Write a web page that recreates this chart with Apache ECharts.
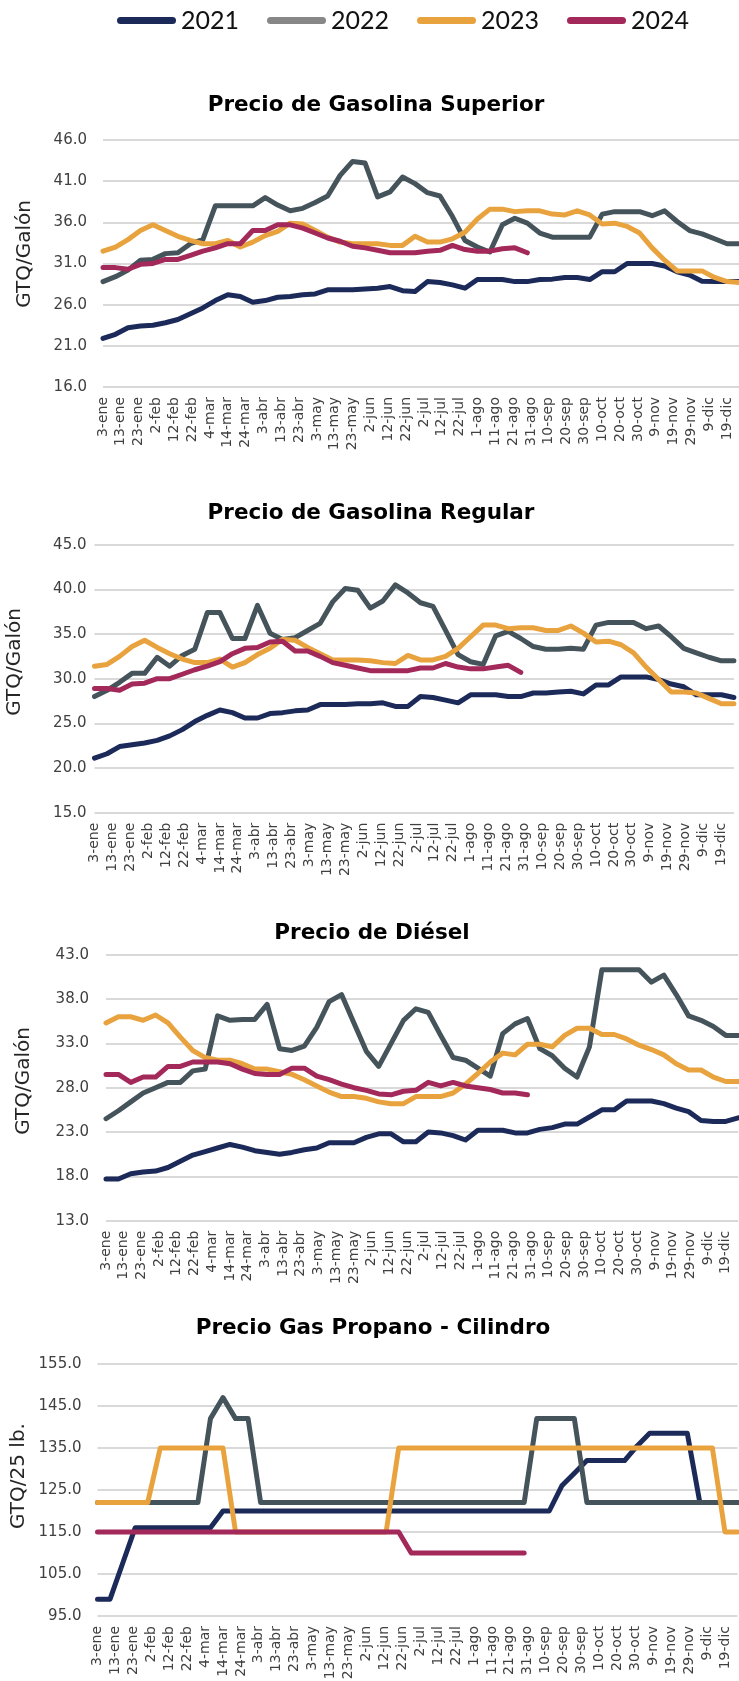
<!DOCTYPE html>
<html>
<head>
<meta charset="utf-8">
<title>Precios de combustibles</title>
<script src="https://cdn.jsdelivr.net/npm/echarts@6/dist/echarts.min.js"></script>
<style>
  html, body { margin: 0; padding: 0; background: #ffffff; }
  #chart { width: 739px; height: 1681px; }
</style>
</head>
<body>
<div id="chart"></div>
<script>
// Years shown in every panel
const years = ['2021', '2022', '2023', '2024'];

// Date labels along the horizontal axis (one every 10 days from 3-ene)
const tickLabels = ['3-ene', '13-ene', '23-ene', '2-feb', '12-feb', '22-feb', '4-mar', '14-mar', '24-mar',
  '3-abr', '13-abr', '23-abr', '3-may', '13-may', '23-may', '2-jun', '12-jun', '22-jun', '2-jul', '12-jul',
  '22-jul', '1-ago', '11-ago', '21-ago', '31-ago', '10-sep', '20-sep', '30-sep', '10-oct', '20-oct',
  '30-oct', '9-nov', '19-nov', '29-nov', '9-dic', '19-dic'];
const tickStepDays = 10;
const readingStepDays = 7;   // prices are weekly
const lastReadingDay = 357;  // 52nd weekly reading

// Gasolina superior (GTQ/galón)
const superior2021 = [21.9, 22.4, 23.2, 23.4, 23.5, 23.8, 24.2, 24.9, 25.6, 26.5, 27.2, 27.0, 26.3, 26.5, 26.9, 27.0, 27.2, 27.3, 27.8, 27.8, 27.8, 27.9, 28.0, 28.2, 27.7, 27.6, 28.8, 28.7, 28.4, 28.0, 29.05, 29.05, 29.05, 28.8, 28.8, 29.05, 29.1, 29.3, 29.3, 29.05, 30.0, 30.0, 31.0, 31.0, 31.0, 30.7, 30.0, 29.6, 28.85, 28.8, 28.8, 28.8];
const superior2022 = [28.8, 29.4, 30.2, 31.4, 31.5, 32.2, 32.3, 33.4, 33.9, 38.0, 38.0, 38.0, 38.0, 39.0, 38.1, 37.4, 37.7, 38.4, 39.2, 41.7, 43.4, 43.2, 39.1, 39.7, 41.5, 40.7, 39.6, 39.2, 36.7, 33.8, 33.0, 32.4, 35.7, 36.5, 35.9, 34.7, 34.2, 34.2, 34.2, 34.2, 37.0, 37.3, 37.3, 37.3, 36.8, 37.4, 36.1, 35.0, 34.6, 34.0, 33.4, 33.4];
const superior2023 = [32.5, 33.0, 33.9, 35.0, 35.7, 35.0, 34.3, 33.8, 33.4, 33.4, 33.8, 33.0, 33.6, 34.4, 34.9, 35.9, 35.8, 35.0, 34.2, 33.6, 33.4, 33.4, 33.4, 33.2, 33.2, 34.3, 33.6, 33.6, 34.0, 34.8, 36.4, 37.6, 37.6, 37.3, 37.4, 37.4, 37.0, 36.9, 37.4, 36.9, 35.8, 35.9, 35.5, 34.7, 32.9, 31.4, 30.1, 30.1, 30.1, 29.3, 28.8, 28.7];
const superior2024 = [30.5, 30.5, 30.3, 30.9, 31.0, 31.5, 31.5, 32.0, 32.5, 32.9, 33.4, 33.4, 35.0, 35.0, 35.7, 35.7, 35.3, 34.7, 34.1, 33.7, 33.1, 32.9, 32.6, 32.3, 32.3, 32.3, 32.5, 32.6, 33.2, 32.7, 32.5, 32.5, 32.8, 32.9, 32.3];

// Gasolina regular (GTQ/galón)
const regular2021 = [21.1, 21.6, 22.4, 22.6, 22.8, 23.1, 23.6, 24.3, 25.2, 25.9, 26.5, 26.2, 25.6, 25.6, 26.1, 26.2, 26.4, 26.5, 27.1, 27.1, 27.1, 27.2, 27.2, 27.3, 26.9, 26.9, 28.0, 27.9, 27.6, 27.3, 28.2, 28.2, 28.2, 28.0, 28.0, 28.4, 28.4, 28.5, 28.6, 28.3, 29.3, 29.3, 30.2, 30.2, 30.2, 29.9, 29.4, 29.1, 28.2, 28.2, 28.2, 27.9];
const regular2022 = [28.0, 28.7, 29.6, 30.6, 30.6, 32.4, 31.4, 32.6, 33.3, 37.4, 37.4, 34.5, 34.5, 38.2, 35.1, 34.4, 34.6, 35.4, 36.2, 38.6, 40.1, 39.9, 37.9, 38.7, 40.5, 39.6, 38.5, 38.1, 35.4, 32.7, 31.9, 31.6, 34.8, 35.3, 34.5, 33.6, 33.3, 33.3, 33.4, 33.3, 36.0, 36.3, 36.3, 36.3, 35.6, 35.9, 34.7, 33.4, 32.9, 32.4, 32.0, 32.0];
const regular2023 = [31.4, 31.6, 32.5, 33.6, 34.3, 33.5, 32.8, 32.2, 31.8, 31.8, 32.2, 31.3, 31.8, 32.7, 33.4, 34.4, 34.3, 33.5, 32.8, 32.1, 32.1, 32.1, 32.0, 31.8, 31.7, 32.6, 32.1, 32.1, 32.5, 33.4, 34.7, 36.0, 36.0, 35.6, 35.7, 35.7, 35.4, 35.4, 35.9, 35.1, 34.1, 34.2, 33.8, 32.9, 31.3, 29.9, 28.5, 28.5, 28.4, 27.8, 27.2, 27.2];
const regular2024 = [28.9, 28.9, 28.7, 29.4, 29.5, 30.0, 30.0, 30.5, 31.0, 31.4, 31.9, 32.8, 33.4, 33.5, 34.1, 34.2, 33.1, 33.1, 32.5, 31.8, 31.5, 31.2, 30.9, 30.9, 30.9, 30.9, 31.2, 31.2, 31.7, 31.3, 31.1, 31.1, 31.3, 31.5, 30.7];

// Diésel (GTQ/galón)
const diesel2021 = [17.7, 17.7, 18.3, 18.5, 18.6, 19.0, 19.7, 20.4, 20.8, 21.2, 21.6, 21.3, 20.9, 20.7, 20.5, 20.7, 21.0, 21.2, 21.8, 21.8, 21.8, 22.4, 22.8, 22.8, 21.9, 21.9, 23.0, 22.9, 22.6, 22.1, 23.2, 23.2, 23.2, 22.9, 22.9, 23.3, 23.5, 23.9, 23.9, 24.7, 25.5, 25.5, 26.5, 26.5, 26.5, 26.2, 25.7, 25.3, 24.3, 24.2, 24.2, 24.6];
const diesel2022 = [24.5, 25.4, 26.4, 27.4, 28.0, 28.6, 28.6, 29.9, 30.1, 36.1, 35.6, 35.7, 35.7, 37.4, 32.4, 32.2, 32.7, 34.8, 37.7, 38.5, 35.3, 32.1, 30.4, 33.0, 35.6, 36.9, 36.5, 33.9, 31.4, 31.1, 30.2, 29.3, 34.1, 35.2, 35.8, 32.4, 31.6, 30.2, 29.2, 32.6, 41.3, 41.3, 41.3, 41.3, 39.9, 40.7, 38.5, 36.1, 35.6, 34.9, 33.9, 33.9];
const diesel2023 = [35.3, 36.0, 36.0, 35.6, 36.2, 35.3, 33.7, 32.2, 31.4, 31.1, 31.1, 30.7, 30.1, 30.1, 29.8, 29.5, 28.9, 28.2, 27.5, 27.0, 27.0, 26.8, 26.4, 26.2, 26.2, 27.0, 27.0, 27.0, 27.4, 28.4, 29.6, 30.9, 31.9, 31.7, 32.9, 32.9, 32.6, 33.9, 34.7, 34.7, 34.0, 34.0, 33.5, 32.8, 32.3, 31.7, 30.7, 30.0, 30.0, 29.2, 28.7, 28.7];
const diesel2024 = [29.5, 29.5, 28.6, 29.2, 29.2, 30.4, 30.4, 30.9, 30.9, 30.9, 30.7, 30.1, 29.6, 29.5, 29.5, 30.2, 30.2, 29.3, 28.9, 28.4, 28.0, 27.7, 27.3, 27.2, 27.6, 27.7, 28.6, 28.2, 28.6, 28.2, 28.0, 27.8, 27.4, 27.4, 27.2];

// Gas propano, cilindro de 25 lb (GTQ)
const propano2021 = [99, 99, 107.5, 116, 116, 116, 116, 116, 116, 116, 120, 120, 120, 120, 120, 120, 120, 120, 120, 120, 120, 120, 120, 120, 120, 120, 120, 120, 120, 120, 120, 120, 120, 120, 120, 120, 120, 126, 129, 132, 132, 132, 132, 135.5, 138.5, 138.5, 138.5, 138.5, 122, 122, 122, 122];
const propano2022 = [122, 122, 122, 122, 122, 122, 122, 122, 122, 142, 147, 142, 142, 122, 122, 122, 122, 122, 122, 122, 122, 122, 122, 122, 122, 122, 122, 122, 122, 122, 122, 122, 122, 122, 122, 142, 142, 142, 142, 122, 122, 122, 122, 122, 122, 122, 122, 122, 122, 122, 122, 122];
const propano2023 = [122, 122, 122, 122, 122, 135, 135, 135, 135, 135, 135, 115, 115, 115, 115, 115, 115, 115, 115, 115, 115, 115, 115, 115, 135, 135, 135, 135, 135, 135, 135, 135, 135, 135, 135, 135, 135, 135, 135, 135, 135, 135, 135, 135, 135, 135, 135, 135, 135, 135, 115, 115];
const propano2024 = [115, 115, 115, 115, 115, 115, 115, 115, 115, 115, 115, 115, 115, 115, 115, 115, 115, 115, 115, 115, 115, 115, 115, 115, 115, 110, 110, 110, 110, 110, 110, 110, 110, 110, 110];

const lineColors = { '2021': '#1c2a5a', '2022': '#45535b', '2023': '#e9a33e', '2024': '#a2295a' };
const legendColors = { '2021': '#1c2a5a', '2022': '#878787', '2023': '#e9a33e', '2024': '#a2295a' };

const panels = [
  {
    title: 'Precio de Gasolina Superior', titleX: 376, titleTop: 94, yName: 'GTQ/Galón', yMin: 16, yMax: 46, yStep: 5,
    grid: { left: 103, top: 140, width: 636.5, height: 247 }, labelMargin: 16, namePos: [24.5, 254],
    series: [superior2021, superior2022, superior2023, superior2024]
  },
  {
    title: 'Precio de Gasolina Regular', titleX: 371, titleTop: 502, yName: 'GTQ/Galón', yMin: 15, yMax: 45, yStep: 5,
    grid: { left: 94.5, top: 544.7, width: 639.4, height: 268 }, labelMargin: 8, namePos: [15, 662],
    series: [regular2021, regular2022, regular2023, regular2024]
  },
  {
    title: 'Precio de Diésel', titleX: 372, titleTop: 922, yName: 'GTQ/Galón', yMin: 13, yMax: 43, yStep: 5,
    grid: { left: 106, top: 954.7, width: 632.2, height: 266 }, labelMargin: 17, namePos: [23.5, 1081],
    series: [diesel2021, diesel2022, diesel2023, diesel2024]
  },
  {
    title: 'Precio Gas Propano - Cilindro', titleX: 373, titleTop: 1317, yName: 'GTQ/25 lb.', yMin: 95, yMax: 155, yStep: 10,
    grid: { left: 97.5, top: 1364, width: 640, height: 252 }, labelMargin: 16, namePos: [18.5, 1476],
    series: [propano2021, propano2022, propano2023, propano2024]
  }
];

const axisFont = 'DejaVu Sans';
const legendIcon = 'path://M3.5,0 L55.5,0 A3.5,3.5 0 0 1 55.5,7 L3.5,7 A3.5,3.5 0 0 1 3.5,0 Z';

const option = {
  animation: false,
  backgroundColor: '#ffffff',
  legend: {
    top: 8,
    left: 117,
    padding: 0,
    itemWidth: 59,
    itemHeight: 7,
    itemGap: 28,
    icon: legendIcon,
    selectedMode: false,
    textStyle: { fontFamily: 'Lato', fontSize: 25, color: '#111111' },
    data: years.map(y => ({ name: y, itemStyle: { color: legendColors[y] } }))
  },
  title: panels.map(p => ({
    text: p.title,
    left: p.titleX,
    top: p.titleTop,
    padding: 0,
    textAlign: 'center',
    textStyle: { fontFamily: 'DejaVu Sans', fontWeight: 'bold', fontSize: 21.5, color: '#000000' }
  })),
  // vertical axis titles
  graphic: panels.map(p => ({
    type: 'text',
    x: p.namePos[0],
    y: p.namePos[1],
    rotation: Math.PI / 2,
    silent: true,
    style: {
      text: p.yName,
      font: '20px "DejaVu Sans"',
      fill: '#262626',
      align: 'center',
      verticalAlign: 'middle'
    }
  })),
  grid: panels.map(p => Object.assign({ containLabel: false, outerBoundsMode: 'none' }, p.grid)),
  xAxis: panels.map((p, i) => ({
    type: 'value',
    gridIndex: i,
    min: 0,
    max: lastReadingDay,
    interval: tickStepDays,
    axisLine: { show: false },
    axisTick: { show: false },
    splitLine: { show: false },
    axisLabel: {
      rotate: 90,
      margin: 10,
      hideOverlap: false,
      fontFamily: axisFont,
      fontSize: 14,
      color: '#404040',
      formatter: v => {
        const k = v / tickStepDays;
        return Number.isInteger(k) && tickLabels[k] ? tickLabels[k] : '';
      }
    }
  })),
  yAxis: panels.map((p, i) => ({
    type: 'value',
    gridIndex: i,
    min: p.yMin,
    max: p.yMax,
    interval: p.yStep,
    axisLine: { show: false },
    axisTick: { show: false },
    splitLine: { lineStyle: { color: '#d9d9d9', width: 2 } },
    axisLabel: {
      margin: p.labelMargin,
      fontFamily: axisFont,
      fontSize: 15,
      color: '#404040',
      formatter: v => v.toFixed(1)
    }
  })),
  series: []
};

panels.forEach((p, i) => {
  years.forEach((y, k) => {
    option.series.push({
      name: y,
      type: 'line',
      xAxisIndex: i,
      yAxisIndex: i,
      data: p.series[k].map((v, w) => [w * readingStepDays, v]),
      showSymbol: false,
      symbol: 'none',
      silent: true,
      lineStyle: { width: 5, color: lineColors[y], cap: 'round', join: 'round' },
      itemStyle: { color: lineColors[y] },
      z: 2 + k
    });
  });
});

const chart = echarts.init(document.getElementById('chart'), null, { renderer: 'canvas' });
chart.setOption(option);
</script>
</body>
</html>
